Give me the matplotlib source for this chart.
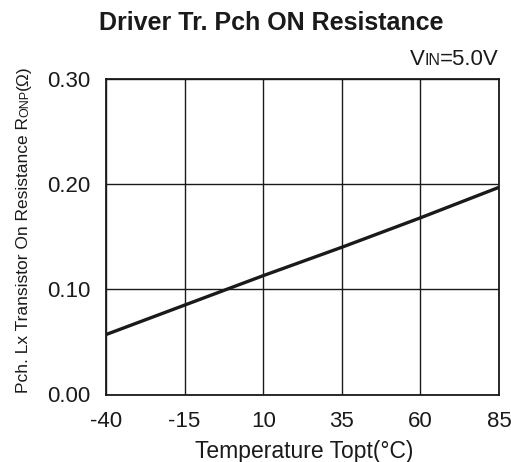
import numpy as np
import matplotlib.pyplot as plt

plt.rcParams['font.family'] = ['Liberation Sans', 'DejaVu Sans']

# Driver Tr. Pch ON resistance vs temperature
temp = [-40, -15, 10, 35, 60, 85]
ronp = [0.057, 0.085, 0.113, 0.140, 0.168, 0.197]

xticks = [-40, -15, 10, 35, 60, 85]
yticks = [0.00, 0.10, 0.20, 0.30]

INK = '#1a1a1a'

fig = plt.figure(figsize=(5.11, 4.62), dpi=100)
ax = fig.add_axes([106/511, 1 - 394.5/462, 393/511, 315.5/462])

ax.plot(temp, ronp, color=INK, lw=2.4, solid_capstyle='butt')

ax.set_xlim(-40, 85)
ax.set_ylim(0, 0.30)
ax.set_xticks(xticks)
ax.set_yticks(yticks)
ax.set_xticklabels([str(t) for t in xticks])
ax.set_yticklabels([f"{v:.2f}" for v in yticks])
ax.tick_params(length=0, labelsize=16, colors=INK)
ax.tick_params(axis='x', pad=12)
ax.tick_params(axis='y', pad=11)
ax.grid(True, color=INK, lw=1.0)
for s in ax.spines.values():
    s.set_color(INK)
    s.set_linewidth(1.3)

fig.text(271/511, 1 - 30/462, 'Driver Tr. Pch ON Resistance', ha='center', va='baseline',
         fontsize=18, fontweight='bold', color=INK)

fig.text(304/511, 1 - 458/462, 'Temperature Topt(°C)', ha='center', va='baseline',
         fontsize=16.5, color=INK)


def chain(pieces, x, y, rotation=0):
    # lay out text pieces one after another, each starting where the last ended
    out = []
    pos = (x, y)
    for txt, size in pieces:
        t = fig.text(pos[0], pos[1], txt, fontsize=size, color=INK, rotation=rotation,
                     rotation_mode='anchor', ha='left', va='baseline')
        fig.canvas.draw()
        bb = t.get_window_extent().transformed(fig.transFigure.inverted())
        pos = (x, bb.y1) if rotation == 90 else (bb.x1, y)
        out.append(t)
    return out


# condition label, right-aligned to the axes edge
cond = chain([('V', 16), ('IN', 11.5), ('=5.0V', 16)], 0, 1 - 65/462)
fig.canvas.draw()
end = cond[-1].get_window_extent().transformed(fig.transFigure.inverted()).x1
shift = 499/511 - end
for t in cond:
    x0, y0 = t.get_position()
    t.set_position((x0 + shift, y0))

# rotated y label
chain([('Pch. Lx Transistor On Resistance R', 12.5), ('ONP', 9), ('(Ω)', 12.5)],
      28/511, 1 - 393/462, rotation=90)

fig.savefig('out.png', dpi=100)
